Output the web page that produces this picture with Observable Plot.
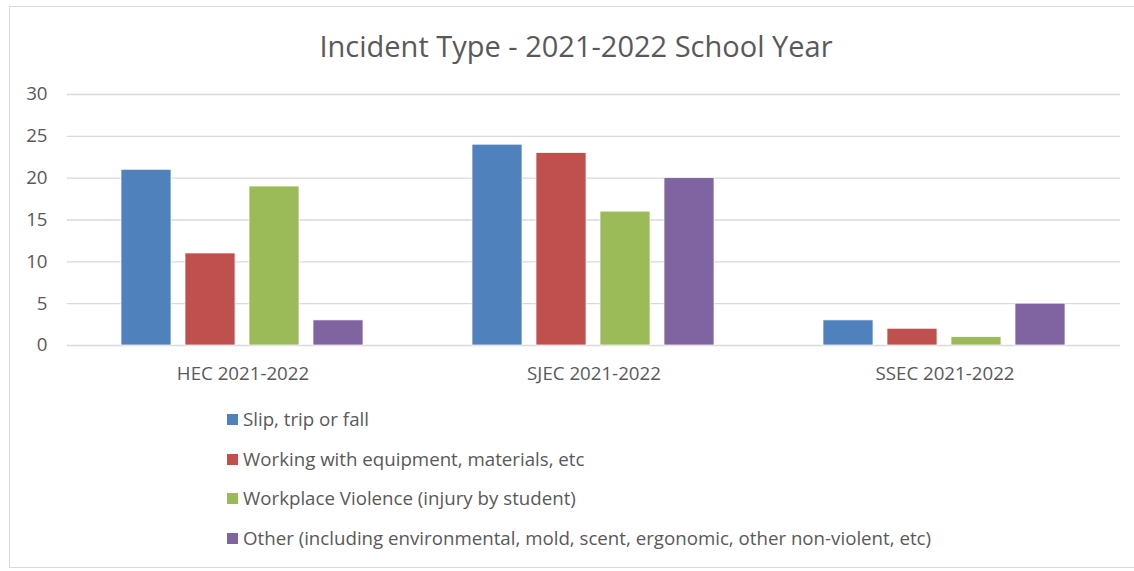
<!DOCTYPE html>
<html>
<head>
<meta charset="utf-8">
<script src="https://cdn.jsdelivr.net/npm/d3@7"></script>
<script src="https://cdn.jsdelivr.net/npm/@observablehq/plot@0.6"></script>
<style>
  html, body { margin: 0; padding: 0; background: #fff; }
  body { width: 1134px; height: 571px; position: relative; overflow: hidden; font-family: "Open Sans", sans-serif; }
  #frame { position: absolute; left: 9px; top: 6px; width: 1130px; height: 562px; border: 1px solid #d9d9d9; box-sizing: border-box; }
  #title { position: absolute; left: 0; width: 1152px; top: 26px; text-align: center; font-size: 29px; color: #595959; line-height: 40px; }
  #chart { position: absolute; left: 0; top: 0; }
  #legend { position: absolute; left: 227px; top: 405px; color: #595959; font-size: 18.7px; }
  .item { height: 39.7px; line-height: 28px; display: flex; align-items: flex-start; }
  .sw { width: 11px; height: 11px; margin-top: 9px; margin-right: 5px; flex: none; }
</style>
</head>
<body>
<div id="frame"></div>
<div id="title">Incident Type - 2021-2022 School Year</div>
<div id="chart"></div>
<div id="legend"></div>
<script>
const groups = ["HEC 2021-2022", "SJEC 2021-2022", "SSEC 2021-2022"];
const types = [
  "Slip, trip or fall",
  "Working with equipment, materials, etc",
  "Workplace Violence (injury by student)",
  "Other (including environmental, mold, scent, ergonomic, other non-violent, etc)"
];
const colors = ["#4F81BD", "#C0504D", "#9BBB59", "#8064A2"];
const slipValues = [21, 24, 3];
const equipmentValues = [11, 23, 2];
const violenceValues = [19, 16, 1];
const otherValues = [3, 20, 5];
const yTicks = [0, 5, 10, 15, 20, 25, 30];

const series = [slipValues, equipmentValues, violenceValues, otherValues];
const data = [];
groups.forEach((g, gi) => types.forEach((t, ti) => data.push({group: g, type: t, value: series[ti][gi]})));

const chart = Plot.plot({
  width: 1134,
  height: 400,
  marginTop: 94,
  marginBottom: 55,
  marginLeft: 66,
  marginRight: 14,
  style: {fontFamily: "'Open Sans', sans-serif", fontSize: "18.7px", color: "#595959", background: "transparent"},
  fx: {domain: groups, padding: 0, label: null, axis: "bottom", tickSize: 0, tickPadding: 21},
  x: {domain: types, paddingInner: 0.215, paddingOuter: 0.84, axis: null},
  y: {domain: [0, 30], ticks: yTicks, label: null, tickSize: 0, tickPadding: 20},
  color: {domain: types, range: colors},
  marks: [
    Plot.ruleY(yTicks, {stroke: "#d9d9d9", strokeWidth: 1.3}),
    Plot.barY(data, {fx: "group", x: "type", y: "value", fill: "type", stroke: "#fff", strokeWidth: 0.7, inset: 0})
  ]
});
document.getElementById("chart").appendChild(chart);

const legend = d3.select("#legend");
types.forEach((t, i) => {
  const item = legend.append("div").attr("class", "item");
  item.append("div").attr("class", "sw").style("background", colors[i]);
  item.append("span").text(t);
});
</script>
</body>
</html>
